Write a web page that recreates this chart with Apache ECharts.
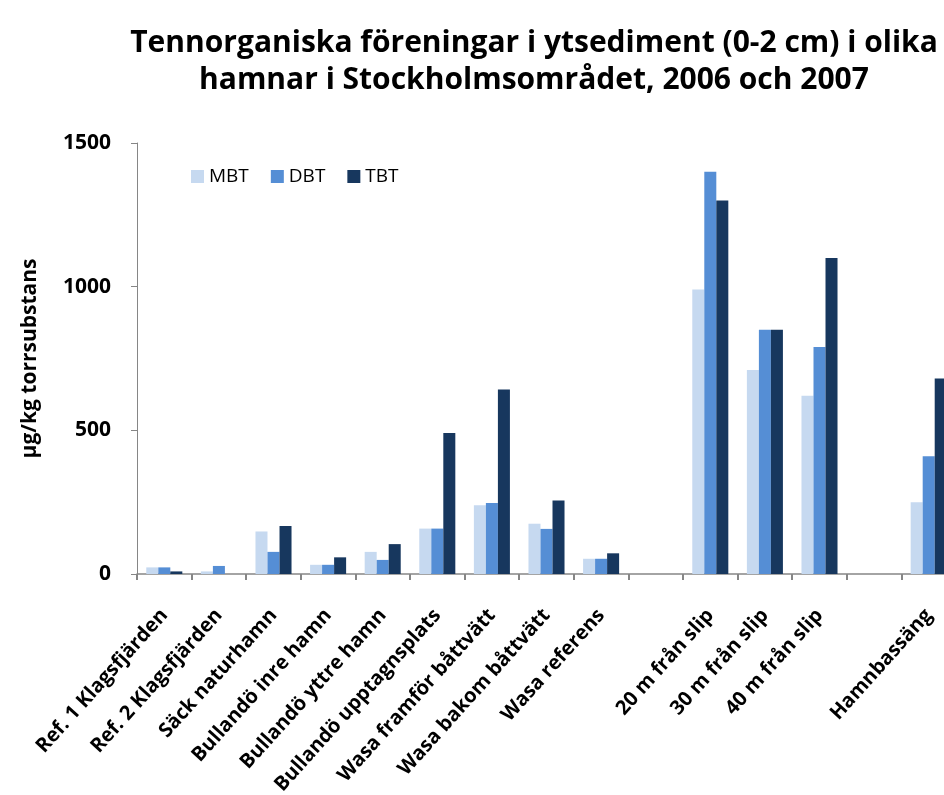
<!DOCTYPE html>
<html>
<head>
<meta charset="utf-8">
<style>
  html, body { margin: 0; padding: 0; background: #fff; }
  #main { width: 944px; height: 795px; }
</style>
<script src="https://cdn.jsdelivr.net/npm/echarts@6/dist/echarts.min.js"></script>
</head>
<body>
<div id="main"></div>
<script>
// kategorier (tomma platser mellan grupperna som i originalet)
var categories = ['Ref. 1 Klagsfjärden', 'Ref. 2 Klagsfjärden', 'Säck naturhamn', 'Bullandö inre hamn',
  'Bullandö yttre hamn', 'Bullandö upptagnsplats', 'Wasa framför båttvätt', 'Wasa bakom båttvätt',
  'Wasa referens', '', '20 m från slip', '30 m från slip', '40 m från slip', '', 'Hamnbassäng'];

var mbt = [23, 9, 148, 32, 77, 158, 239, 175, 53, '-', 990, 710, 620, '-', 250];
var dbt = [23, 28, 77, 32, 49, 158, 247, 157, 53, '-', 1400, 850, 790, '-', 410];
var tbt = [9, '-', 167, 58, 104, 491, 642, 256, 72, '-', 1300, 850, 1100, '-', 680];

var yTicks = [0, 500, 1000, 1500];

var myChart = echarts.init(document.getElementById('main'));

var fontFam = '"Open Sans", "DejaVu Sans", sans-serif';

option = {
    animation: false,
    title: {
        text: 'Tennorganiska föreningar i ytsediment (0-2 cm) i olika\nhamnar i Stockholmsområdet, 2006 och 2007',
        left: 529,
        top: 20,
        textAlign: 'center',
        textStyle: {
            fontFamily: fontFam,
            fontWeight: 'bold',
            fontSize: 30,
            lineHeight: 37,
            color: '#000'
        }
    },
    legend: {
        left: 186,
        top: 162,
        itemWidth: 13,
        itemHeight: 13,
        itemGap: 22,
        icon: 'rect',
        textStyle: { fontFamily: fontFam, fontSize: 19, color: '#000' },
        data: ['MBT', 'DBT', 'TBT']
    },
    grid: {
        left: 137,
        width: 819,
        top: 143,
        bottom: 221,
        containLabel: false,
        outerBoundsMode: 'none'
    },
    xAxis: {
        type: 'category',
        data: categories,
        axisLine: { lineStyle: { color: '#868686', width: 1.5 } },
        axisTick: { show: true, alignWithLabel: false, length: 6, lineStyle: { color: '#868686', width: 2 } },
        axisLabel: {
            interval: 0,
            rotate: 48,
            margin: 38,
            fontFamily: fontFam,
            fontWeight: 'bold',
            fontSize: 20,
            color: '#000'
        }
    },
    yAxis: {
        type: 'value',
        min: yTicks[0],
        max: yTicks[yTicks.length - 1],
        interval: 500,
        name: 'µg/kg torrsubstans',
        nameLocation: 'middle',
        nameGap: 96,
        nameRotate: 90,
        nameTextStyle: { fontFamily: fontFam, fontWeight: 'bold', fontSize: 21, color: '#000' },
        axisLine: { show: true, lineStyle: { color: '#868686', width: 1 } },
        axisTick: { show: true, length: 6, lineStyle: { color: '#868686' } },
        splitLine: { show: false },
        axisLabel: {
            margin: 26,
            formatter: function (v) { return String(v); },
            fontFamily: fontFam,
            fontWeight: 'bold',
            fontSize: 21,
            color: '#000'
        }
    },
    series: [
        { name: 'MBT', type: 'bar', data: mbt, barGap: '0%', barCategoryGap: '34%', itemStyle: { color: '#c6d9f0' } },
        { name: 'DBT', type: 'bar', data: dbt, barGap: '0%', barCategoryGap: '34%', itemStyle: { color: '#558ed5' } },
        { name: 'TBT', type: 'bar', data: tbt, barGap: '0%', barCategoryGap: '34%', itemStyle: { color: '#17375e' } }
    ]
};

myChart.setOption(option);
</script>
</body>
</html>
